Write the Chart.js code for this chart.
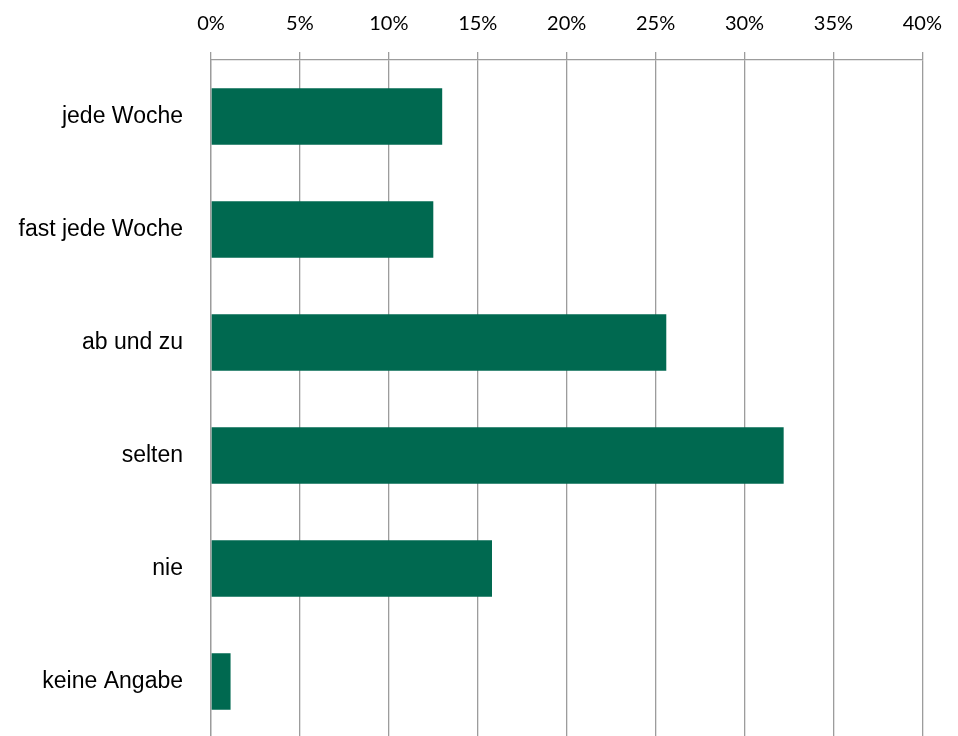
<!DOCTYPE html>
<html>
<head>
<meta charset="utf-8">
<script src="https://cdn.jsdelivr.net/npm/chart.js@4"></script>
<style>
  html, body { margin: 0; padding: 0; background: #fff; overflow: hidden; }
  #wrap { width: 958px; height: 740px; }
</style>
</head>
<body>
<div id="wrap"><canvas id="chart" width="958" height="740"></canvas></div>
<script>
// Umfrage: wie oft?
const categories = ['jede Woche', 'fast jede Woche', 'ab und zu', 'selten', 'nie', 'keine Angabe'];
const shares = [13.0, 12.5, 25.6, 32.2, 15.8, 1.1];
const tickValues = [0, 5, 10, 15, 20, 25, 30, 35, 40];

const gray = '#9c9c9c';

new Chart(document.getElementById('chart'), {
    type: 'bar',
    data: {
        labels: categories,
        datasets: [{
            data: shares,
            backgroundColor: '#006950',
            categoryPercentage: 1,
            barPercentage: 0.5
        }]
    },
    options: {
        indexAxis: 'y',
        responsive: false,
        animation: false,
        layout: { padding: { top: 10, right: 29, bottom: 2, left: 0 } },
        plugins: { legend: { display: false }, tooltip: { enabled: false } },
        scales: {
            x: {
                position: 'top',
                min: 0,
                max: 40,
                afterBuildTicks: axis => { axis.ticks = tickValues.map(v => ({ value: v })); },
                grid: { color: gray, lineWidth: 1.3, tickLength: 8 },
                border: { color: gray, width: 1.3 },
                ticks: {
                    padding: 16,
                    color: '#000',
                    font: { family: 'Lato', size: 20 },
                    callback: v => v + '%'
                },
                afterFit: axis => { axis.height = 50; }
            },
            y: {
                grid: { display: false },
                border: { color: gray, width: 1.3 },
                ticks: {
                    padding: 20,
                    color: '#000',
                    font: { family: 'Liberation Sans', size: 23 }
                },
                afterFit: axis => {
                    axis.width = 211;
                    axis.paddingTop = 0;
                    axis.paddingBottom = 0;
                }
            }
        }
    }
});
</script>
</body>
</html>
